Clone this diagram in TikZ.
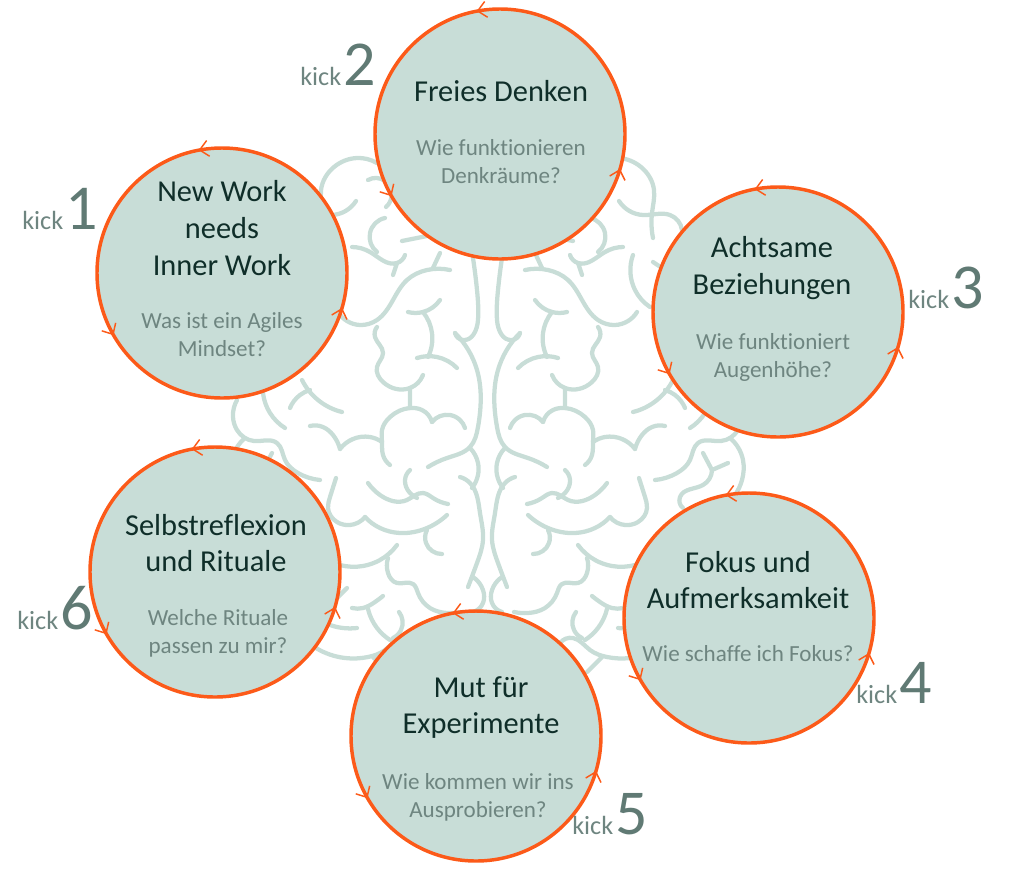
\documentclass[tikz,border=0pt]{standalone}
\usepackage{fontspec}
\setmainfont{Carlito}[Ligatures=NoCommon]
\usetikzlibrary{arrows.meta,decorations.markings,hobby}
\definecolor{sage}{RGB}{200,221,215}
\definecolor{flame}{RGB}{252,90,25}
\definecolor{darkpine}{RGB}{15,46,41}
\definecolor{greypine}{RGB}{110,133,128}
\definecolor{kickgrey}{RGB}{96,122,116}

\newcommand{\brainhalf}{
	% upper lobes
	\draw[brainline] (322,238) .. (323,213) .. (321,190) .. (334,167) .. (357,158) .. (377,163);
	\draw[brainline] (356,201) .. (332,215) .. (305,215) .. (293,230);
	\draw[brainline] (368,180) .. (385,181) .. (386,207);
	\draw[brainline] (385,218) .. (370,233) .. (377,252);
	\draw[brainline] (352,247) .. (370,252) .. (397,263) .. (405,255);
	\draw[brainline] (397,263) .. (393,275);
	\draw[brainline] (402,241) .. (427,236);
	\draw[brainline] (440,253) .. (433,268);
	\draw[brainline] (342,255) .. (340,290) .. (325,307);
	\draw[brainline] (322,262) .. (313,268);

	% middle lobes
	\draw[brainline] (450,270) .. (427,270) .. (407,280) .. (393,300) .. (377,320) .. (360,325) .. (338,312);
	\draw[brainline] (377,327) .. (375,337) .. (383,353) .. (377,367) .. (383,382) .. (410,388) .. (423,375);
	\draw[brainline] (410,388) .. (410,408);
	\draw[brainline] (390,465) .. (383,455) .. (382,442) .. (382,430) .. (390,417) .. (410,408) .. (422,410) .. (432,422);
	\draw[brainline] (432,422) .. (450,415) .. (460,420) .. (465,428);
	\draw[brainline] (408,312) .. (423,312) .. (440,300);
	\draw[brainline] (423,312) .. (432,333) .. (428,357);
	\draw[brainline] (417,358) .. (437,357) .. (457,368);

	% midline
	\draw[brainline] (473,258) .. (477,290) .. (478,320) .. (463,340) .. (455,333);
	\draw[brainline] (455,333) .. (477,370) .. (478,427) .. (470,447) .. (447,458) .. (428,467);
	\draw[brainline] (470,448) .. (478,463) .. (478,475) .. (472,488);
	\draw[brainline] (460,477) .. (470,483) .. (480,513) .. (483,540) .. (477,563) .. (468,587);
	\draw[brainline] (473,577) .. (483,590) .. (483,603) .. (473,612);

	% outer edge
	\draw[brainline] (342,412) .. (318,400) .. (302,380);
	\draw[brainline] (310,390) .. (300,395) .. (290,408);
	\draw[brainline] (263,393) .. (270,413) .. (285,428);
	\draw[brainline] (310,426) .. (323,427) .. (333,435) .. (340,449);
	\draw[brainline] (340,449) .. (353,439) .. (370,437) .. (382,442);
	\draw[brainline] (320,480) .. (298,473) .. (285,460) .. (277,443) .. (254,441) .. (237,430) .. (233,417) .. (237,400);
	\draw[brainline] (245,438) .. (232,460) .. (233,480) .. (240,495);
	\draw[brainline] (272,453) .. (263,470);
	\draw[brainline] (263,470) .. (247,463);
	\draw[brainline] (263,470) .. (272,485) .. (295,497) .. (292,508);

	% lower lobes
	\draw[brainline] (336,478) .. (330,497) .. (328,508) .. (337,522) .. (350,525) .. (365,517);
	\draw[brainline] (365,517) .. (380,528) .. (400,533) .. (427,528) .. (447,515);
	\draw[brainline] (427,530) .. (426,543) .. (442,554);
	\draw[brainline] (368,483) .. (380,495) .. (407,500) .. (423,493) .. (433,498) .. (448,504);
	\draw[brainline] (410,470) .. (405,480) .. (410,493) .. (417,498);
	\draw[brainline] (397,545) .. (380,560) .. (363,566) .. (340,565);
	\draw[brainline] (388,558) .. (388,573) .. (397,583) .. (413,584) .. (418,593) .. (430,608) .. (447,613) .. (461,612);
	\draw[brainline] (347,588) .. (337,598);
	\draw[brainline] (352,608) .. (363,608) .. (375,602) .. (383,596);
	\draw[brainline] (368,609) .. (377,628) .. (390,640);
	\draw[brainline] (399,612) .. (401,630) .. (393,638);
	\draw[brainline] (330,625) .. (343,628) .. (357,628);
	\draw[brainline] (316,648) .. (345,658) .. (368,657) .. (385,650) .. (402,638) .. (415,643);
	\draw[brainline] (373,657) .. (388,672);
}

\begin{document}
\begin{tikzpicture}[x=0.75pt,y=-0.75pt,use Hobby shortcut]

	\tikzset{
		brainline/.style={sage, line width=3.2pt, line cap=round, line join=round},
		kickcircle/.style={
			circle, draw=flame, fill=sage, line width=2.6pt, minimum size=187.5pt, inner sep=0pt,
			postaction={decorate},
			decoration={markings,
				mark=at position 0.28 with {\arrow{Straight Barb[length=6.5pt,width=12pt,line width=1.1pt,flame]}},
				mark=at position 0.583 with {\arrow{Straight Barb[length=6.5pt,width=12pt,line width=1.1pt,flame]}},
				mark=at position 0.955 with {\arrow{Straight Barb[length=6.5pt,width=12pt,line width=1.1pt,flame]}}
			}
		},
		headline/.style={text=darkpine, align=center, font=\fontsize{22.8}{27.5}\selectfont},
		question/.style={text=greypine, align=center, font=\fontsize{17.3}{21}\selectfont},
		kicklabel/.style={anchor=base west, inner sep=0pt, text=greypine, font=\fontsize{19.7}{24}\selectfont}
	}

	\useasboundingbox (0,0) rectangle (1024,893);

	% brain, right half is the mirrored left half

	\brainhalf
	\begin{scope}[shift={(975,0)},xscale=-1]
		\brainhalf
	\end{scope}

	% circles

	\node[kickcircle] (circle1) at (222,273) {};
	\node[kickcircle] (circle2) at (500,134) {};
	\node[kickcircle] (circle3) at (778,312) {};
	\node[kickcircle] (circle4) at (749,618) {};
	\node[kickcircle] (circle5) at (476,736) {};
	\node[kickcircle] (circle6) at (215,572) {};

	% markings and text

	\node[headline] (head1) at (222,228) {New Work\\needs\\Inner Work};
	\node[question] (ask1) at (222,335) {Was ist ein Agiles\\Mindset?};
	\node[headline] (head2) at (501,91) {Freies Denken};
	\node[question] (ask2) at (501,162) {Wie funktionieren\\Denkräume?};
	\node[headline] (head3) at (772,268) {Achtsame\\Beziehungen};
	\node[question] (ask3) at (773,357) {Wie funktioniert\\Augenhöhe?};
	\node[headline] (head4) at (748,580) {Fokus und\\Aufmerksamkeit};
	\node[question] (ask4) at (748,654) {Wie schaffe ich Fokus?};
	\node[headline] (head5) at (481,707.5) {Mut für\\Experimente};
	\node[question] (ask5) at (478,797) {Wie kommen wir ins\\Ausprobieren?};
	\node[headline] (head6) at (216,543) {Selbstreflexion\\und Rituale};
	\node[question] (ask6) at (218,633) {Welche Rituale\\passen zu mir?};

	\node[kicklabel] (kick1) at (22,229) {kick\kern1.5pt{\color{kickgrey}\fontsize{48}{48}\selectfont 1}};
	\node[kicklabel] (kick2) at (300,85) {kick\kern1.5pt{\color{kickgrey}\fontsize{48}{48}\selectfont 2}};
	\node[kicklabel] (kick3) at (908,308) {kick\kern1.5pt{\color{kickgrey}\fontsize{48}{48}\selectfont 3}};
	\node[kicklabel] (kick4) at (856,703) {kick\kern1.5pt{\color{kickgrey}\fontsize{48}{48}\selectfont 4}};
	\node[kicklabel] (kick5) at (572,834) {kick\kern1.5pt{\color{kickgrey}\fontsize{48}{48}\selectfont 5}};
	\node[kicklabel] (kick6) at (17,629) {kick\kern1.5pt{\color{kickgrey}\fontsize{48}{48}\selectfont 6}};

\end{tikzpicture}
\end{document}
